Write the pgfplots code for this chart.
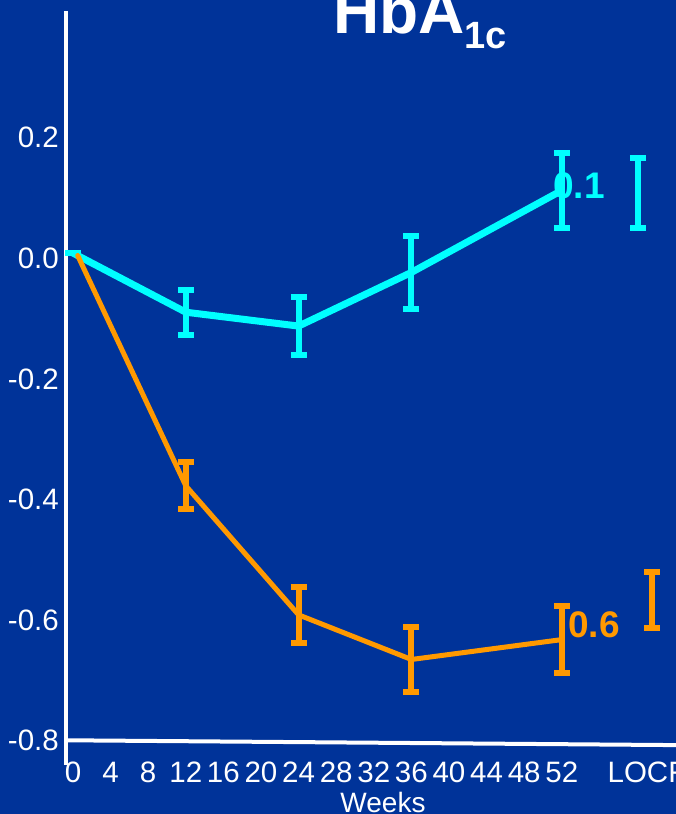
\documentclass[border=0pt]{standalone}
\usepackage{pgfplots}
\pgfplotsset{compat=1.18}
\usepackage{fontspec}
\setmainfont{Liberation Sans}

\definecolor{slidebg}{RGB}{0,51,153}
\definecolor{armA}{RGB}{0,255,255}
\definecolor{armB}{RGB}{255,153,0}

\tikzset{
  capA/.style={draw=armA, line width=6pt, mark size=8pt, rotate=90},
  capB/.style={draw=armB, line width=6pt, mark size=8pt, rotate=90},
}

% weekly change from baseline, mean and error
\pgfplotstableread{
wk   val     err
0    0.008   0
12  -0.090   0.037
24  -0.113   0.048
36  -0.024   0.060
52   0.112   0.062
}\armAdata
\pgfplotstableread{
wk   val     err
12  -0.378   0.039
24  -0.592   0.046
36  -0.666   0.054
52  -0.633   0.056
}\armBdata

\begin{document}
\begin{tikzpicture}
\useasboundingbox (0,0) rectangle (676pt,814pt);
\clip (0,0) rectangle (676pt,814pt);
\fill[slidebg] (0,0) rectangle (676pt,814pt);
\begin{axis}[
  at={(66pt,49pt)}, anchor=south west,
  scale only axis, width=610pt, height=754pt,
  xmin=-0.745, xmax=64.15, ymin=-0.841, ymax=0.4096,
  clip=false,
  axis line style={draw=none},
  major tick length=0pt,
  tick style={draw=none},
  xtick={0,4,...,52,61.06},
  xticklabels={0,4,8,12,16,20,24,28,32,36,40,44,48,52,LOCF},
  ytick={-0.8,-0.6,-0.4,-0.2,0,0.2},
  yticklabels={-0.8,-0.6,-0.4,-0.2,0.0,0.2},
  ticklabel style={font=\fontsize{29.5}{30}\selectfont, text=white, inner sep=0pt},
  xticklabel style={anchor=base, yshift=-17.5pt},
  yticklabel style={anchor=base east, xshift=-7pt, yshift=-10.5pt},
]
% axis lines
\draw[white, line width=4pt] (axis cs:-0.745,0.4096) -- (axis cs:-0.745,-0.841);
\draw[white, line width=4pt] (axis cs:-0.745,-0.8) -- (axis cs:64.15,-0.808);

% value labels (placed beneath the error bars)
\node[anchor=base west, inner sep=0pt, text=armA, font=\bfseries\fontsize{37}{37}\selectfont]
  at (axis cs:51.06,0.0978) {0.1};
\node[anchor=base west, inner sep=0pt, text=armB, font=\bfseries\fontsize{37}{37}\selectfont]
  at (axis cs:52.66,-0.630) {0.6};

\addplot[armA, line width=7pt, line join=round, mark=none,
  error bars/.cd, y dir=both, y explicit,
  error bar style={armA, line width=6pt},
  error mark options={capA}]
  table[x=wk, y=val, y error=err] {\armAdata};
% second arm: line starts at the common baseline point
\addplot[armB, line width=5pt, line join=round, line cap=round, mark=none]
  coordinates {(0.5,0.004) (12,-0.378) (24,-0.592) (36,-0.666) (52,-0.633)};
\addplot[draw=none, mark=none,
  error bars/.cd, y dir=both, y explicit,
  error bar style={draw=armB, line width=6pt},
  error mark options={capB}]
  table[x=wk, y=val, y error=err] {\armBdata};

% last observation carried forward
\addplot[draw=none, mark=none,
  error bars/.cd, y dir=both, y explicit,
  error bar style={draw=armA, line width=6pt},
  error mark options={capA}]
  coordinates {(60.1,0.108) +- (0,0.058)};
\addplot[draw=none, mark=none,
  error bars/.cd, y dir=both, y explicit,
  error bar style={draw=armB, line width=6pt},
  error mark options={capB}]
  coordinates {(61.6,-0.567) +- (0,0.046)};

% title and axis name
\node[anchor=base west, inner sep=0pt, text=white, font=\bfseries]
  at (axis cs:27.66,0.373)
  {\fontsize{64}{64}\selectfont HbA\raisebox{-15pt}{\fontsize{38}{38}\selectfont 1c}};
\node[anchor=base, inner sep=0pt, text=white, font=\fontsize{28}{28}\selectfont]
  at (axis cs:32.98,-0.919) {Weeks};
\end{axis}
\end{tikzpicture}
\end{document}
